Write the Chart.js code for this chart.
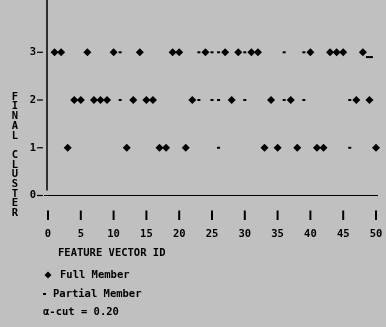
<!DOCTYPE html>
<html>
<head>
<meta charset="utf-8">
<script src="https://cdn.jsdelivr.net/npm/chart.js@4.4.1/dist/chart.umd.min.js"></script>
<style>
  html, body { margin: 0; padding: 0; background: #c0c0c0; }
  canvas { display: block; }
</style>
</head>
<body>
<canvas id="clusterChart" width="386" height="327"></canvas>
<script>
// feature vector ids that are full members of each cluster
const fullCluster3 = [1, 2, 6, 10, 14, 19, 20, 24, 27, 29, 31, 32, 40, 43, 44, 45, 48];
const fullCluster2 = [4, 5, 7, 8, 9, 13, 15, 16, 22, 28, 34, 37, 47, 49];
const fullCluster1 = [3, 12, 17, 18, 21, 33, 35, 38, 41, 42, 50];

// ids with partial membership (alpha-cut 0.20)
const partialCluster3 = [11, 23, 25, 26, 30, 36, 39];
const partialCluster2 = [11, 23, 25, 26, 30, 36, 39, 46];
const partialCluster1 = [26, 46];

// the trailing underscore mark at the end of the top row
const underscoreIds = [49];
const underscoreLevels = [2.9];

const xTicks = [0, 5, 10, 15, 20, 25, 30, 35, 40, 45, 50];
const yTicks = [0, 1, 2, 3];

const xTitle = 'FEATURE VECTOR ID';
const yTitle = 'FINAL CLUSTER';
const fullLabel = 'Full Member';
const partialLabel = 'Partial Member';
const cutLabel = 'α-cut = 0.20';

const FONT = 'bold 10.5px "DejaVu Sans Mono", "Liberation Mono", monospace';
const INK = '#000000';

function toPoints(ids, level) {
    return ids.map(id => ({ x: id, y: level }));
}

const fullPoints = []
    .concat(toPoints(fullCluster3, 3))
    .concat(toPoints(fullCluster2, 2))
    .concat(toPoints(fullCluster1, 1));

const partialPoints = []
    .concat(toPoints(partialCluster3, 3))
    .concat(toPoints(partialCluster2, 2))
    .concat(toPoints(partialCluster1, 1));

const underscorePoints = underscoreIds.map((id, i) => ({ x: id, y: underscoreLevels[i] }));

// axes, tick marks, titles and the little legend are drawn by hand
const decorations = {
    id: 'decorations',
    beforeDraw(chart) {
        const ctx = chart.ctx;
        ctx.save();
        ctx.fillStyle = '#c0c0c0';
        ctx.fillRect(0, 0, chart.width, chart.height);
        ctx.restore();
    },
    beforeDatasetsDraw(chart) {
        const ctx = chart.ctx;
        const xs = chart.scales.x;
        const ys = chart.scales.y;
        const x0 = xs.getPixelForValue(0);
        const y0 = ys.getPixelForValue(0);

        ctx.save();
        ctx.strokeStyle = INK;
        ctx.fillStyle = INK;

        // vertical axis stops a little short of the horizontal one
        ctx.lineWidth = 1.5;
        ctx.beginPath();
        ctx.moveTo(x0 - 1, 0);
        ctx.lineTo(x0 - 1, y0 - 5);
        ctx.stroke();

        // horizontal axis
        ctx.lineWidth = 1.2;
        ctx.beginPath();
        ctx.moveTo(x0 - 4, y0);
        ctx.lineTo(xs.getPixelForValue(50) + 2, y0);
        ctx.stroke();

        ctx.font = FONT;
        ctx.textBaseline = 'middle';

        // y tick labels with their dash
        ctx.textAlign = 'center';
        yTicks.forEach(v => {
            const y = ys.getPixelForValue(v);
            ctx.fillText(String(v), 33, y);
            ctx.lineWidth = 1.2;
            ctx.beginPath();
            ctx.moveTo(37, y);
            ctx.lineTo(43, y);
            ctx.stroke();
        });

        // x tick bars sit below the axis, labels below them
        xTicks.forEach(v => {
            const x = xs.getPixelForValue(v);
            ctx.lineWidth = 2;
            ctx.beginPath();
            ctx.moveTo(x, y0 + 15);
            ctx.lineTo(x, y0 + 24.5);
            ctx.stroke();
            ctx.fillText(String(v), x, y0 + 38.5);
        });

        // stacked y title
        const letters = yTitle.split('');
        letters.forEach((ch, i) => {
            if (ch !== ' ') ctx.fillText(ch, 15, 97 + i * 9.7);
        });

        ctx.textAlign = 'left';
        ctx.fillText(xTitle, 58, 253);

        // legend
        ctx.beginPath();
        ctx.moveTo(48, 271.5);
        ctx.lineTo(51.5, 275);
        ctx.lineTo(48, 278.5);
        ctx.lineTo(44.5, 275);
        ctx.closePath();
        ctx.fill();
        ctx.fillText(fullLabel, 60, 275);

        ctx.fillRect(43, 293, 3, 2);
        ctx.fillText(partialLabel, 53, 294);

        ctx.fillText(cutLabel, 43, 312);
        ctx.restore();
    }
};

new Chart(document.getElementById('clusterChart'), {
    type: 'scatter',
    data: {
        datasets: [
            {
                label: fullLabel,
                data: fullPoints,
                pointStyle: 'rectRot',
                pointRadius: 4,
                borderWidth: 0,
                backgroundColor: INK,
                borderColor: INK,
                clip: false
            },
            {
                label: partialLabel,
                data: partialPoints,
                pointStyle: 'line',
                pointRadius: 1.5,
                borderWidth: 2,
                backgroundColor: INK,
                borderColor: INK,
                clip: false
            },
            {
                label: '_',
                data: underscorePoints,
                pointStyle: 'line',
                pointRadius: 3.5,
                borderWidth: 2,
                backgroundColor: INK,
                borderColor: INK,
                clip: false
            }
        ]
    },
    options: {
        responsive: false,
        animation: false,
        events: [],
        layout: { padding: { left: 48, right: 10, top: 0, bottom: 131.5 } },
        scales: {
            x: { type: 'linear', min: 0, max: 50, display: false },
            y: { type: 'linear', min: 0, max: 3.97, display: false }
        },
        plugins: {
            legend: { display: false },
            tooltip: { enabled: false }
        }
    },
    plugins: [decorations]
});
</script>
</body>
</html>
